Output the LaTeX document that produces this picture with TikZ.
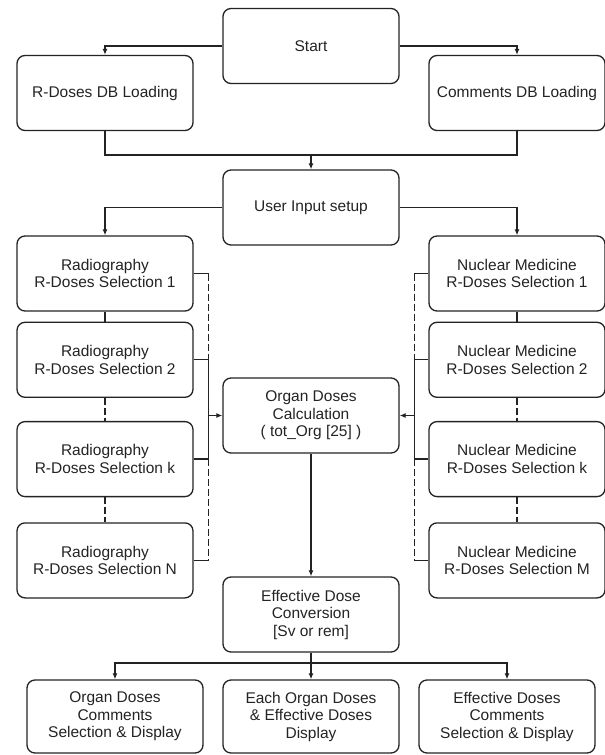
\documentclass[tikz,border=0pt]{standalone}
\usepackage{fontspec}
\setmainfont{Liberation Sans}
\usepackage{tikz}
\usetikzlibrary{arrows.meta,positioning,calc}
\definecolor{ink}{RGB}{35,35,35}

\begin{document}
\begin{tikzpicture}[x=1pt,y=1pt,
  box/.style={rectangle,rounded corners=8pt,draw=ink,line width=1.3pt,align=center,minimum width=176pt,minimum height=75pt,text=ink,font=\fontsize{15.5}{17.5}\selectfont},
  outbox/.style={box,minimum height=73pt},
  link/.style={draw=ink,line width=1.3pt},
  dashlink/.style={link,dash pattern=on 7pt off 3pt},
  arrow/.style={link,-{Latex[length=6pt,width=5pt]}}
]
\useasboundingbox (0,0) rectangle (605,-755);
\node[box] (start) at (311,-46) {Start};
\node[box] (rdb) at (105,-93) {R-Doses DB Loading};
\node[box] (cdb) at (517,-93) {Comments DB Loading};
\node[box] (user) at (311,-207.5) {User Input setup};
\node[box] (rad1) at (105,-273.5) {Radiography\\R-Doses Selection 1};
\node[box,below=10pt of rad1] (rad2) {Radiography\\R-Doses Selection 2};
\node[box,below=23pt of rad2] (radk) {Radiography\\R-Doses Selection k};
\node[box,below=25pt of radk] (radn) {Radiography\\R-Doses Selection N};
\node[box] (nuc1) at (517,-273.5) {Nuclear Medicine\\R-Doses Selection 1};
\node[box,below=10pt of nuc1] (nuc2) {Nuclear Medicine\\R-Doses Selection 2};
\node[box,below=23pt of nuc2] (nuck) {Nuclear Medicine\\R-Doses Selection k};
\node[box,below=25pt of nuck] (nucn) {Nuclear Medicine\\R-Doses Selection M};
\node[box] (organ) at (311,-415.5) {Organ Doses\\Calculation\\( tot\_Org [25] )};
\node[box] (eff) at (311,-614.5) {Effective Dose\\Conversion\\{[Sv or rem]}};
\node[outbox] (out1) at (115,-716.5) {Organ Doses\\Comments\\Selection \& Display};
\node[outbox] (out2) at (311,-716.5) {Each Organ Doses\\\& Effective Doses\\Display};
\node[outbox] (out3) at (507,-716.5) {Effective Doses\\Comments\\Selection \& Display};
\coordinate (merge) at (311,-155);
\coordinate (split) at (311,-663);
\draw[arrow] (start.west) -| (rdb.north);
\draw[arrow] (start.east) -| (cdb.north);
\draw[link] (rdb.south) |- (merge) -| (cdb.south);
\draw[arrow] (merge) -- (user.north);
\draw[arrow] (user.west) -| (rad1.north);
\draw[arrow] (user.east) -| (nuc1.north);
\draw[link] (rad1) -- (rad2);
\draw[link] (nuc1) -- (nuc2);
\draw[dashlink] (rad2) -- (radk) (radk) -- (radn);
\draw[dashlink] (nuc2) -- (nuck) (nuck) -- (nucn);
\foreach \n in {1,2,k,n} {
  \coordinate (lb\n) at ($(rad\n.east)+(15,0)$);
  \coordinate (rb\n) at ($(nuc\n.west)+(-14,0)$);
  \draw[link] (rad\n.east) -- (lb\n);
  \draw[link] (nuc\n.west) -- (rb\n);
}
\draw[dashlink] (lb1) -- (lb2) (lbk) -- (lbn);
\draw[dashlink] (rb1) -- (rb2) (rbk) -- (rbn);
\draw[link] (lb2) -- (lbk);
\draw[link] (rb2) -- (rbk);
\draw[arrow] (organ.west -| lb1) -- (organ.west);
\draw[arrow] (organ.east -| rb1) -- (organ.east);
\draw[arrow] (organ) -- (eff);
\draw[link] (eff.south) -- (split);
\draw[arrow] (split) -- (out2);
\draw[arrow] (split) -| (out1.north);
\draw[arrow] (split) -| (out3.north);
\end{tikzpicture}
\end{document}
